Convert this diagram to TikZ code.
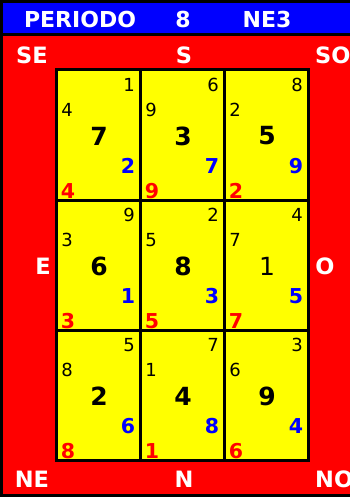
\documentclass[tikz,border=0pt]{standalone}
\usepackage{fontspec}
\setmainfont{DejaVu Sans}
\definecolor{hdrblue}{RGB}{0,0,255}
\definecolor{bgred}{RGB}{255,0,0}
\definecolor{cellyellow}{RGB}{255,255,0}
\definecolor{numblue}{RGB}{0,0,255}
\definecolor{numred}{RGB}{255,0,0}
\tikzset{
  hdr/.style={text=white, font=\bfseries\fontsize{22}{22}\selectfont, inner sep=0pt, anchor=center},
  dirlbl/.style={text=white, font=\bfseries\fontsize{22.5}{22.5}\selectfont, inner sep=0pt, anchor=center},
  cellbox/.style={draw=black, line width=3pt, fill=cellyellow},
  smallnum/.style={text=black, font=\fontsize{18}{18}\selectfont, inner sep=0pt, anchor=center},
  bignum/.style={text=black, font=\bfseries\fontsize{25}{25}\selectfont, inner sep=0pt, anchor=center},
  bigthin/.style={text=black, font=\fontsize{25}{25}\selectfont, inner sep=0pt, anchor=center},
  bluenum/.style={text=numblue, font=\bfseries\fontsize{20.5}{20.5}\selectfont, inner sep=0pt, anchor=center},
  rednum/.style={text=numred, font=\bfseries\fontsize{20.5}{20.5}\selectfont, inner sep=0pt, anchor=center},
}
% cell contents: \mycell{col}{row}{topright}{left}{center}{blue}{red}{centerstyle}
\newcommand{\mycell}[8]{%
  \begin{scope}[shift={({56+84*#1},{70+130*#2})}]
    \node[smallnum] (tr#1#2) at (73,15) {#3};
    \node[smallnum] (l#1#2) at (11,40) {#4};
    \node[#8] (c#1#2) at (43,66) {#5};
    \node[bluenum] (b#1#2) at (72,96) {#6};
    \node[rednum] (r#1#2) at (12,121) {#7};
  \end{scope}}
\begin{document}
\begin{tikzpicture}[x=1pt,y=-1pt]
\useasboundingbox (0,0) rectangle (350,497);
% background
\fill[black] (0,0) rectangle (350,497);
\fill[hdrblue] (3,3) rectangle (350,33);
\fill[bgred] (3,36) rectangle (350,494);
% header
\node[hdr] (hp) at (80,19.5) {PERIODO};
\node[hdr] (hn) at (183,19.5) {8};
\node[hdr] (hc) at (267,19.5) {NE3};
% direction labels
\node[dirlbl] (se) at (32,55) {SE};
\node[dirlbl] (s) at (184,55) {S};
\node[dirlbl, anchor=west] (so) at (315,55) {SO};
\node[dirlbl] (e) at (43,266) {E};
\node[dirlbl] (o) at (325,266) {O};
\node[dirlbl] (ne) at (32,479) {NE};
\node[dirlbl] (n) at (184,479) {N};
\node[dirlbl, anchor=west] (no) at (315,479) {NO};
% cells
\foreach \c in {0,1,2}{
  \foreach \r in {0,1,2}{
    \draw[cellbox] ({56+84*\c},{70+130*\r}) rectangle ({140+84*\c},{200+130*\r});
  }
}
\mycell{0}{0}{1}{4}{7}{2}{4}{bignum}
\mycell{1}{0}{6}{9}{3}{7}{9}{bignum}
\mycell{2}{0}{8}{2}{5}{9}{2}{bignum}
\mycell{0}{1}{9}{3}{6}{1}{3}{bignum}
\mycell{1}{1}{2}{5}{8}{3}{5}{bignum}
\mycell{2}{1}{4}{7}{1}{5}{7}{bigthin}
\mycell{0}{2}{5}{8}{2}{6}{8}{bignum}
\mycell{1}{2}{7}{1}{4}{8}{1}{bignum}
\mycell{2}{2}{3}{6}{9}{4}{6}{bignum}
\end{tikzpicture}
\end{document}
